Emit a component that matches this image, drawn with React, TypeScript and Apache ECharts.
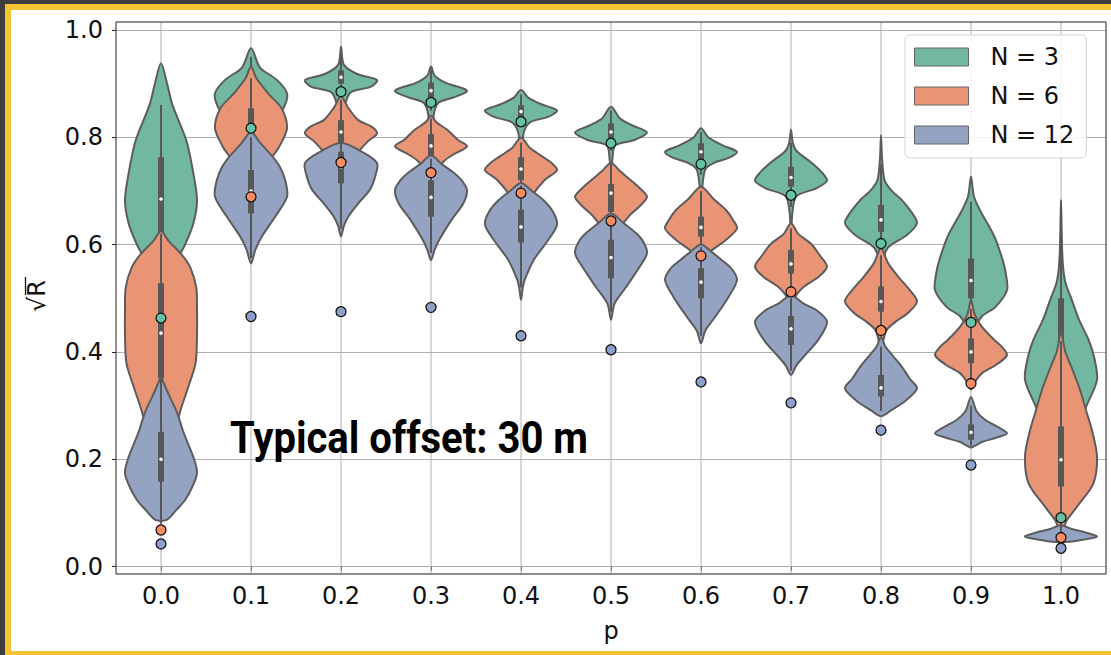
import React, { useEffect, useRef } from 'react';
import * as echarts from 'echarts';

// ---------- data ----------
const pLabels = ['0.0', '0.1', '0.2', '0.3', '0.4', '0.5', '0.6', '0.7', '0.8', '0.9', '1.0'];
const groupNames = ['N = 3', 'N = 6', 'N = 12'];
const violinColors = ['#71b7a1', '#e99575', '#95a3c3'];
const dotColors = ['#66c2a5', '#fc8d62', '#8da0cb'];

// violin profiles: [value, relative half-width] from bottom to top
const shapeN3 = [
  [[0.36, 0], [0.45, 0.15], [0.52, 0.3], [0.571, 0.45], [0.6, 0.67], [0.64, 0.9], [0.683, 1], [0.74, 0.88], [0.795, 0.7], [0.86, 0.32], [0.9, 0.17], [0.938, 0]],
  [[0.72, 0], [0.78, 0.2], [0.82, 0.55], [0.857, 0.92], [0.882, 1], [0.907, 0.72], [0.93, 0.25], [0.966, 0]],
  [[0.8, 0], [0.85, 0.08], [0.875, 0.18], [0.885, 0.3], [0.895, 0.85], [0.907, 1], [0.918, 0.45], [0.935, 0.08], [0.969, 0]],
  [[0.79, 0], [0.82, 0.04], [0.85, 0.1], [0.865, 0.22], [0.875, 0.65], [0.887, 1], [0.902, 0.4], [0.915, 0.1], [0.932, 0]],
  [[0.74, 0], [0.78, 0.04], [0.81, 0.08], [0.828, 0.25], [0.838, 0.75], [0.85, 1], [0.862, 0.55], [0.874, 0.2], [0.888, 0]],
  [[0.73, 0], [0.76, 0.04], [0.785, 0.12], [0.795, 0.65], [0.809, 1], [0.822, 0.6], [0.835, 0.25], [0.857, 0]],
  [[0.68, 0], [0.71, 0.04], [0.74, 0.12], [0.752, 0.35], [0.761, 0.75], [0.773, 1], [0.785, 0.6], [0.8, 0.2], [0.817, 0]],
  [[0.62, 0], [0.66, 0.04], [0.69, 0.15], [0.705, 0.7], [0.719, 1], [0.735, 0.85], [0.752, 0.58], [0.775, 0.15], [0.79, 0.05], [0.814, 0]],
  [[0.53, 0], [0.57, 0.05], [0.595, 0.2], [0.618, 0.72], [0.64, 1], [0.66, 0.85], [0.683, 0.58], [0.7, 0.3], [0.72, 0.1], [0.76, 0.03], [0.804, 0]],
  [[0.4, 0], [0.44, 0.1], [0.466, 0.3], [0.484, 0.68], [0.515, 1], [0.545, 0.97], [0.571, 0.88], [0.615, 0.65], [0.664, 0.25], [0.69, 0.08], [0.727, 0]],
  [[0.12, 0], [0.2, 0.25], [0.26, 0.5], [0.298, 0.7], [0.348, 1], [0.39, 0.92], [0.422, 0.77], [0.46, 0.5], [0.497, 0.3], [0.53, 0.12], [0.565, 0.05], [0.62, 0.02], [0.683, 0]],
];
const shapeN6 = [
  [[0.08, 0], [0.15, 0.15], [0.22, 0.3], [0.286, 0.52], [0.335, 0.76], [0.379, 0.96], [0.43, 1], [0.48, 1], [0.52, 0.98], [0.558, 0.81], [0.581, 0.58], [0.607, 0.21], [0.625, 0]],
  [[0.66, 0], [0.72, 0.25], [0.764, 0.6], [0.782, 0.78], [0.817, 1], [0.854, 0.85], [0.88, 0.5], [0.91, 0.15], [0.932, 0]],
  [[0.7, 0], [0.74, 0.15], [0.77, 0.45], [0.792, 0.74], [0.807, 1], [0.82, 0.85], [0.832, 0.48], [0.855, 0.2], [0.876, 0]],
  [[0.7, 0], [0.735, 0.15], [0.755, 0.35], [0.767, 0.6], [0.783, 1], [0.795, 0.75], [0.814, 0.45], [0.828, 0.15], [0.84, 0]],
  [[0.62, 0], [0.66, 0.1], [0.69, 0.3], [0.72, 0.65], [0.739, 1], [0.752, 0.85], [0.764, 0.6], [0.78, 0.25], [0.799, 0]],
  [[0.59, 0], [0.62, 0.15], [0.653, 0.5], [0.671, 0.79], [0.689, 1], [0.705, 0.8], [0.72, 0.55], [0.737, 0.25], [0.752, 0]],
  [[0.55, 0], [0.58, 0.15], [0.609, 0.7], [0.63, 1], [0.645, 0.9], [0.664, 0.7], [0.685, 0.35], [0.708, 0]],
  [[0.47, 0], [0.5, 0.1], [0.521, 0.35], [0.54, 0.77], [0.559, 1], [0.58, 0.8], [0.602, 0.55], [0.62, 0.2], [0.64, 0]],
  [[0.41, 0], [0.44, 0.15], [0.456, 0.4], [0.472, 0.74], [0.494, 1], [0.515, 0.8], [0.54, 0.48], [0.565, 0.2], [0.593, 0]],
  [[0.33, 0], [0.345, 0.12], [0.36, 0.3], [0.376, 0.7], [0.394, 1], [0.41, 0.85], [0.422, 0.65], [0.447, 0.3], [0.47, 0.1], [0.497, 0]],
  [[0.06, 0], [0.085, 0.15], [0.111, 0.44], [0.155, 0.9], [0.205, 1], [0.254, 0.86], [0.29, 0.7], [0.329, 0.53], [0.37, 0.3], [0.4, 0.12], [0.435, 0]],
];
const shapeN12 = [
  [[0.087, 0.16], [0.105, 0.42], [0.124, 0.67], [0.15, 0.88], [0.174, 1], [0.2, 0.92], [0.251, 0.62], [0.286, 0.45], [0.32, 0.22], [0.348, 0.04], [0.36, 0]],
  [[0.565, 0], [0.59, 0.12], [0.615, 0.3], [0.651, 0.66], [0.689, 1], [0.72, 0.95], [0.745, 0.8], [0.764, 0.6], [0.79, 0.25], [0.81, 0]],
  [[0.615, 0], [0.635, 0.08], [0.652, 0.2], [0.677, 0.48], [0.702, 0.8], [0.727, 0.95], [0.752, 1], [0.773, 0.58], [0.79, 0]],
  [[0.571, 0], [0.59, 0.1], [0.609, 0.23], [0.646, 0.57], [0.677, 0.9], [0.702, 1], [0.72, 0.85], [0.733, 0.65], [0.75, 0.3], [0.766, 0]],
  [[0.497, 0], [0.52, 0.05], [0.534, 0.1], [0.571, 0.35], [0.609, 0.76], [0.637, 1], [0.66, 0.9], [0.683, 0.62], [0.7, 0.3], [0.715, 0]],
  [[0.46, 0], [0.49, 0.1], [0.521, 0.42], [0.559, 0.8], [0.584, 1], [0.605, 0.9], [0.621, 0.7], [0.64, 0.35], [0.658, 0]],
  [[0.416, 0], [0.44, 0.12], [0.466, 0.4], [0.503, 0.77], [0.534, 1], [0.555, 0.85], [0.571, 0.58], [0.586, 0.3], [0.6, 0]],
  [[0.357, 0], [0.375, 0.15], [0.391, 0.35], [0.422, 0.75], [0.456, 1], [0.478, 0.7], [0.49, 0.35], [0.505, 0]],
  [[0.28, 0], [0.292, 0.3], [0.31, 0.7], [0.332, 1], [0.35, 0.8], [0.372, 0.58], [0.395, 0.3], [0.41, 0.12], [0.428, 0]],
  [[0.222, 0], [0.232, 0.3], [0.24, 0.7], [0.248, 1], [0.26, 0.75], [0.273, 0.4], [0.29, 0.15], [0.316, 0]],
  [[0.046, 0.25], [0.05, 0.6], [0.056, 1], [0.063, 0.7], [0.07, 0.3], [0.077, 0]],
];

// inner boxes: [whiskerLow, q1, median, q3, whiskerHigh]
const boxN3 = [
  [0.45, 0.618, 0.685, 0.763, 0.86],
  [0.82, 0.854, 0.882, 0.906, 0.95],
  [0.878, 0.9, 0.912, 0.925, 0.95],
  [0.85, 0.875, 0.887, 0.902, 0.925],
  [0.82, 0.838, 0.848, 0.86, 0.88],
  [0.775, 0.795, 0.81, 0.826, 0.85],
  [0.73, 0.758, 0.773, 0.789, 0.81],
  [0.67, 0.708, 0.725, 0.745, 0.79],
  [0.585, 0.624, 0.646, 0.674, 0.75],
  [0.43, 0.5, 0.533, 0.574, 0.68],
  [0.1, 0.276, 0.343, 0.5, 0.68],
];
const boxN6 = [
  [0.29, 0.351, 0.435, 0.528, 0.62],
  [0.73, 0.782, 0.815, 0.854, 0.91],
  [0.75, 0.789, 0.81, 0.832, 0.87],
  [0.73, 0.763, 0.784, 0.806, 0.835],
  [0.69, 0.72, 0.741, 0.763, 0.79],
  [0.63, 0.661, 0.696, 0.713, 0.75],
  [0.59, 0.615, 0.632, 0.652, 0.7],
  [0.51, 0.546, 0.564, 0.59, 0.63],
  [0.44, 0.475, 0.494, 0.522, 0.58],
  [0.345, 0.379, 0.4, 0.425, 0.48],
  [0.07, 0.149, 0.199, 0.261, 0.42],
];
const boxN12 = [
  [0.087, 0.158, 0.2, 0.251, 0.35],
  [0.575, 0.658, 0.7, 0.739, 0.8],
  [0.63, 0.714, 0.745, 0.773, 0.79],
  [0.585, 0.652, 0.688, 0.72, 0.76],
  [0.52, 0.604, 0.633, 0.665, 0.71],
  [0.475, 0.537, 0.576, 0.609, 0.65],
  [0.43, 0.5, 0.53, 0.556, 0.595],
  [0.365, 0.413, 0.443, 0.467, 0.5],
  [0.29, 0.317, 0.333, 0.357, 0.41],
  [0.225, 0.236, 0.25, 0.265, 0.3],
  [0.046, 0.05, 0.056, 0.063, 0.077],
];

// reference markers
const markN3 = [0.463, 0.817, 0.885, 0.865, 0.829, 0.789, 0.75, 0.692, 0.602, 0.455, 0.091];
const markN6 = [0.068, 0.689, 0.753, 0.734, 0.696, 0.644, 0.579, 0.512, 0.44, 0.341, 0.054];
const markN12 = [0.042, 0.466, 0.475, 0.483, 0.43, 0.404, 0.344, 0.305, 0.254, 0.189, 0.034];

const yTicks = [0, 0.2, 0.4, 0.6, 0.8, 1.0];

const FONT = 'DejaVu Sans';
const EDGE = '#5c5c5c';

function violinRenderer(shapes: number[][][], boxes: number[][], color: string) {
  return (params: any, api: any) => {
    const i = params.dataIndex;
    const cat = api.value(0);
    const cx = api.coord([cat, 0])[0];
    const hw = api.size([1, 0])[0] * 0.4;
    const Y = (v: number) => api.coord([cat, v])[1];
    const prof = shapes[i];
    const right = prof.map(([v, w]) => [cx + w * hw, Y(v)]);
    const rev = prof.slice().reverse();
    const left = rev
      .filter((p, k) => !(p[1] === 0 && (k === 0 || k === rev.length - 1)))
      .map(([v, w]) => [cx - w * hw, Y(v)]);
    const [wl, q1, md, q3, wh] = boxes[i];
    return {
      type: 'group',
      children: [
        {
          type: 'polygon',
          shape: { points: right.concat(left), smooth: 0.3 },
          style: { fill: color, stroke: EDGE, lineWidth: 2, lineJoin: 'round' },
        },
        {
          type: 'line',
          shape: { x1: cx, y1: Y(wl), x2: cx, y2: Y(wh) },
          style: { stroke: '#575757', lineWidth: 2 },
        },
        {
          type: 'rect',
          shape: { x: cx - 3, y: Y(q3), width: 6, height: Y(q1) - Y(q3) },
          style: { fill: '#575757' },
        },
        {
          type: 'circle',
          shape: { cx, cy: Y(md), r: 1.8 },
          style: { fill: '#ffffff' },
        },
      ],
    };
  };
}

const shapes = [shapeN3, shapeN6, shapeN12];
const boxes = [boxN3, boxN6, boxN12];
const marks = [markN3, markN6, markN12];

export default function App() {
  const ref = useRef<HTMLDivElement>(null);
  useEffect(() => {
    if (!ref.current) return;
    const chart = echarts.init(ref.current, null, { renderer: 'svg' });

    const violinSeries = groupNames.map((name, g) => ({
      name,
      type: 'custom',
      z: 3,
      itemStyle: { color: violinColors[g], borderColor: '#666', borderWidth: 1 },
      encode: { x: 0, y: 1 },
      data: pLabels.map((_, i) => [i, boxes[g][i][2]]),
      renderItem: violinRenderer(shapes[g], boxes[g], violinColors[g]),
      silent: true,
    }));

    const dotSeries = groupNames.map((name, g) => ({
      name: 'marker ' + name,
      type: 'scatter',
      z: 5,
      symbol: 'circle',
      symbolSize: 10,
      itemStyle: { color: dotColors[g], borderColor: '#151515', borderWidth: 1.3, opacity: 1 },
      data: marks[g].map((v, i) => [i, v]),
      silent: true,
    }));

    const gridLineSeries = {
      name: 'vgrid',
      type: 'custom',
      z: 1,
      silent: true,
      encode: { x: 0, y: 1 },
      data: pLabels.map((_, i) => [i, 0]),
      renderItem: (params: any, api: any) => {
        const x = api.coord([api.value(0), 0])[0];
        const cs = params.coordSys;
        return {
          type: 'line',
          shape: { x1: x, y1: cs.y - 8, x2: x, y2: cs.y + cs.height + 7.5 },
          style: { stroke: '#b0b0b0', lineWidth: 1 },
        };
      },
    };

    chart.setOption({
      animation: false,
      backgroundColor: 'transparent',
      grid: { left: 116, right: 5, top: 30, bottom: 88.5, containLabel: false },
      xAxis: {
        type: 'category',
        data: pLabels,
        offset: 7.5,
        axisLine: { show: false },
        axisTick: { show: true, alignWithLabel: true, length: 4, lineStyle: { color: '#222', width: 1 } },
        axisLabel: { fontFamily: FONT, fontSize: 24, color: '#111', margin: 10 },
        splitLine: { show: false },
      },
      yAxis: {
        type: 'value',
        min: 0,
        max: 1,
        interval: 0.2,
        axisLine: { show: false },
        axisTick: { show: true, length: 4, lineStyle: { color: '#222', width: 1 } },
        axisLabel: {
          fontFamily: FONT,
          fontSize: 24,
          color: '#111',
          margin: 13,
          formatter: (v: number) => (yTicks.some((t) => Math.abs(t - v) < 1e-9) ? v.toFixed(1) : ''),
        },
        splitLine: { show: true, lineStyle: { color: '#b0b0b0', width: 1 } },
      },
      legend: {
        orient: 'vertical',
        left: 905,
        top: 35,
        padding: [10, 12, 11, 9],
        itemWidth: 54,
        itemHeight: 18,
        itemGap: 15,
        icon: 'rect',
        borderColor: '#d5d5d5',
        borderWidth: 1,
        borderRadius: 5,
        backgroundColor: 'rgba(255,255,255,0.85)',
        textStyle: { fontFamily: FONT, fontSize: 24, lineHeight: 24, color: '#111', padding: [0, 0, 0, 17] },
        data: groupNames.map((n, g) => ({
          name: n,
          itemStyle: { color: violinColors[g], borderColor: '#666', borderWidth: 1 },
        })),
        selectedMode: false,
      },
      graphic: [
        {
          type: 'rect',
          z: 10,
          silent: true,
          shape: { x: 116, y: 22, width: 990, height: 552 },
          style: { fill: 'none', stroke: '#222', lineWidth: 1 },
        },
        {
          type: 'group',
          z: 10,
          x: 37,
          y: 296,
          rotation: Math.PI / 2,
          children: [
            {
              type: 'text',
              x: 0,
              y: 0,
              style: {
                text: '√R',
                font: `24px "${FONT}"`,
                fill: '#111',
                textAlign: 'center',
                textVerticalAlign: 'middle',
              },
            },
            {
              type: 'line',
              shape: { x1: 1, y1: -11.5, x2: 19, y2: -11.5 },
              style: { stroke: '#111', lineWidth: 1.3 },
            },
          ],
        },
        {
          type: 'text',
          z: 10,
          x: 611,
          y: 631,
          style: {
            text: 'p',
            font: `24px "${FONT}"`,
            fill: '#111',
            textAlign: 'center',
            textVerticalAlign: 'middle',
          },
        },
        {
          type: 'text',
          z: 10,
          x: 230,
          y: 438,
          scaleX: 0.91,
          style: {
            text: 'Typical offset: 30 m',
            font: 'bold 44px Roboto',
            fill: '#000',
            textAlign: 'left',
            textVerticalAlign: 'middle',
          },
        },
      ],
      series: [gridLineSeries, ...violinSeries, ...dotSeries],
    });
    return () => chart.dispose();
  }, []);

  return (
    <div style={{ position: 'fixed', left: 0, top: 0, width: 1111, height: 655, background: '#3d3d3d', overflow: 'hidden' }}>
      <div style={{ position: 'absolute', left: 5, top: 4, width: 1106, height: 651, background: '#f3c334' }} />
      <div style={{ position: 'absolute', left: 11, top: 10, width: 1100, height: 641, background: '#ffffff' }} />
      <div ref={ref} style={{ position: 'absolute', left: 0, top: 0, width: 1111, height: 655 }} />
    </div>
  );
}
